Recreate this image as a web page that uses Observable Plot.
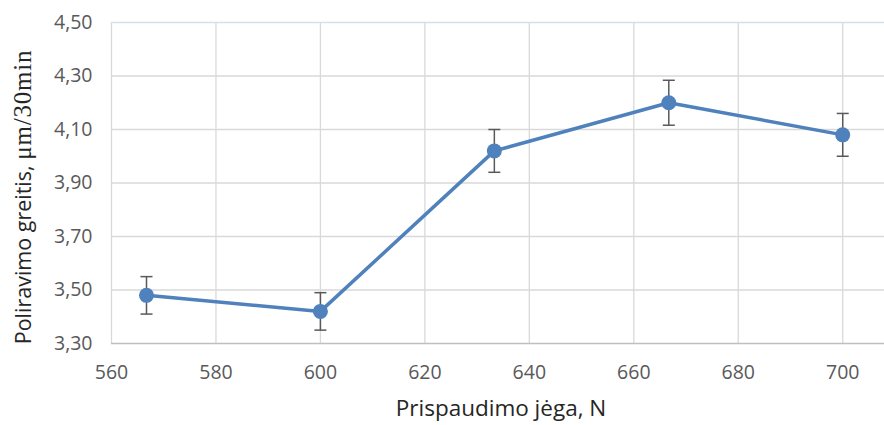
<!DOCTYPE html>
<html><head><meta charset="utf-8">
<script src="https://cdn.jsdelivr.net/npm/d3@7"></script>
<script src="https://cdn.jsdelivr.net/npm/@observablehq/plot@0.6"></script>
<style>body{margin:0;background:#fff;}</style>
</head><body><div id="chart"></div>
<script>
const force = [566.7, 600, 633.3, 666.7, 700];
const rate = [3.48, 3.42, 4.02, 4.20, 4.08];
const err = [0.07, 0.07, 0.08, 0.084, 0.08];
const xTicks = [560, 580, 600, 620, 640, 660, 680, 700];
const yTicks = [3.3, 3.5, 3.7, 3.9, 4.1, 4.3, 4.5];
const xTitle = "Prispaudimo jėga, N";
const yTitleSans = "Poliravimo greitis, ";
const yTitleSerif = "μm/30min";

const data = force.map((x, i) => ({x, y: rate[i], lo: rate[i] - err[i], hi: rate[i] + err[i]}));
const fmt = d => d.toFixed(2).replace(".", ",");
const capHalf = 1.15; // in x units (≈6px)

const chart = Plot.plot({
  width: 884, height: 425,
  marginLeft: 111, marginRight: 0, marginTop: 22, marginBottom: 82,
  style: {fontFamily: "Open Sans", fontSize: "19.5px", color: "#595959", background: "#fff"},
  x: {domain: [560, 708], ticks: xTicks, tickSize: 0, tickPadding: 22, label: null, tickFormat: d => String(d)},
  y: {domain: [3.3, 4.5], ticks: yTicks, tickSize: 0, tickPadding: 19, label: null, tickFormat: fmt},
  marks: [
    Plot.ruleX(xTicks, {stroke: "#d9d9d9", strokeWidth: 1.3}),
    Plot.ruleY(yTicks.filter(v => v > 3.3 && v < 4.5), {stroke: "#d9d9d9", strokeWidth: 1.3}),
    Plot.ruleY([4.5], {stroke: "#d6dfeb", strokeWidth: 1.3}),
    Plot.ruleY([3.3], {stroke: "#bfbfbf", strokeWidth: 1.5}),
    Plot.link(data, {x1: "x", x2: "x", y1: "lo", y2: "hi", stroke: "#595959", strokeWidth: 1.5}),
    Plot.link(data, {x1: d => d.x - capHalf, x2: d => d.x + capHalf, y1: "lo", y2: "lo", stroke: "#595959", strokeWidth: 1.5}),
    Plot.link(data, {x1: d => d.x - capHalf, x2: d => d.x + capHalf, y1: "hi", y2: "hi", stroke: "#595959", strokeWidth: 1.5}),
    Plot.line(data, {x: "x", y: "y", stroke: "#4f81bd", strokeWidth: 3.5}),
    Plot.dot(data, {x: "x", y: "y", r: 7.5, fill: "#4f81bd", stroke: "none"})
  ]
});

const svg = d3.select(chart);
svg.append("text")
  .attr("x", 501).attr("y", 416)
  .attr("text-anchor", "middle")
  .attr("font-family", "Open Sans").attr("font-size", 22.5).attr("fill", "#262626")
  .text(xTitle);
const yt = svg.append("text")
  .attr("transform", "translate(31,197) rotate(-90)")
  .attr("text-anchor", "middle")
  .attr("font-size", 21.5).attr("fill", "#262626");
yt.append("tspan").attr("font-family", "Open Sans").text(yTitleSans);
yt.append("tspan").attr("font-family", "Liberation Serif").attr("font-size", 25).attr("letter-spacing", 0.8).text(yTitleSerif);

document.getElementById("chart").appendChild(chart);
</script>
</body></html>
